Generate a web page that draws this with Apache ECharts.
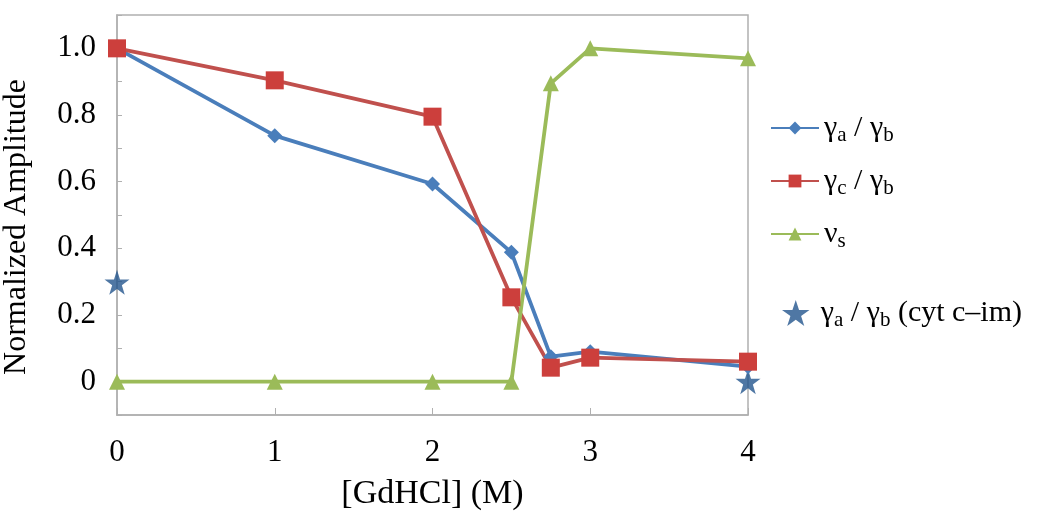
<!DOCTYPE html>
<html>
<head>
<meta charset="utf-8">
<script src="https://cdn.jsdelivr.net/npm/echarts@6/dist/echarts.min.js"></script>
<style>
html, body { margin: 0; padding: 0; background: #fff; }
#myChart { width: 1050px; height: 529px; }
</style>
</head>
<body>
<div id="myChart"></div>
<script>
// GdHCl concentration (M)
var xValues = [0, 1, 2, 2.5, 2.75, 3, 4];
var gammaAB = [1.0, 0.738, 0.593, 0.388, 0.075, 0.09, 0.045];
var gammaCB = [1.0, 0.904, 0.795, 0.253, 0.042, 0.072, 0.06];
var nuS = [0, 0, 0, 0, 0.895, 1.0, 0.97];
var cytX = [0, 4];
var cytY = [0.298, 0.0];

var font = 'Liberation Serif';
var starPath = 'path://M50,0 L61.8,35.4 L99,35.4 L69,57.3 L80.4,92.7 L50,70.8 L19.6,92.7 L31,57.3 L1,35.4 L38.2,35.4 Z';

function pairs(xs, ys) {
    var out = [];
    for (var i = 0; i < xs.length; i++) out.push([xs[i], ys[i]]);
    return out;
}

var legendText = {
    'ab': '{g|γ}{s|a}{g| / γ}{s|b}',
    'cb': '{g|γ}{s|c}{g| / γ}{s|b}',
    'nu': '{g|ν}{s|s}',
    'cyt': '{sp| }{g|γ}{s|a}{g| / γ}{s|b}{g| (cyt c–im)}'
};

var legendRich = {
    sp: { fontSize: 8, width: 6 },
    g: { fontFamily: font, fontSize: 30, color: '#000', lineHeight: 36 },
    s: { fontFamily: font, fontSize: 21, color: '#000', verticalAlign: 'bottom', lineHeight: 26, padding: [11, 0, 0, 0] }
};

var myChart = echarts.init(document.getElementById('myChart'));
var option = {
    animation: false,
    grid: {
        left: 117,
        right: 302,
        top: 15,
        bottom: 114,
        outerBoundsMode: 'none',
        show: true,
        borderColor: '#b0b0b0',
        borderWidth: 1.5
    },
    legend: [
        {
            orient: 'vertical',
            left: 765,
            top: 108,
            itemGap: 20,
            itemWidth: 48,
            itemHeight: 16,
            data: ['ab', 'cb', 'nu'],
            formatter: function (name) { return legendText[name]; },
            textStyle: { fontFamily: font, color: '#000', rich: legendRich }
        },
        {
            orient: 'vertical',
            left: 777,
            top: 293,
            itemWidth: 28,
            itemHeight: 26,
            data: ['cyt'],
            formatter: function (name) { return legendText[name]; },
            textStyle: { fontFamily: font, color: '#000', rich: legendRich }
        }
    ],
    xAxis: {
        type: 'value',
        min: 0,
        max: 4,
        interval: 1,
        name: '[GdHCl] (M)',
        nameLocation: 'middle',
        nameGap: 62,
        nameTextStyle: { fontFamily: font, fontSize: 34, color: '#000' },
        axisLine: { onZero: false, lineStyle: { color: '#b0b0b0', width: 1.5 } },
        axisTick: { inside: true, length: 7, lineStyle: { color: '#b0b0b0' } },
        axisLabel: { fontFamily: font, fontSize: 31, color: '#000', margin: 22 },
        splitLine: { show: false }
    },
    yAxis: {
        type: 'value',
        min: -0.1,
        max: 1.1,
        interval: 0.1,
        name: 'Normalized Amplitude',
        nameLocation: 'middle',
        nameGap: 84,
        nameTextStyle: { fontFamily: font, fontSize: 32, color: '#000', padding: [0, 24, 0, 0] },
        axisLine: { show: true, lineStyle: { color: '#b0b0b0', width: 1.5 } },
        axisTick: { inside: true, length: 5, lineStyle: { color: '#b0b0b0' } },
        axisLabel: {
            fontFamily: font,
            fontSize: 31,
            color: '#000',
            margin: 21,
            formatter: function (v) {
                var k = Math.round(v * 10);
                if (k < 0 || k > 10 || k % 2 !== 0) return '';
                if (k === 0) return '0';
                return (k / 10).toFixed(1);
            }
        },
        splitLine: { show: false }
    },
    series: [
        {
            name: 'ab',
            type: 'line',
            data: pairs(xValues, gammaAB),
            symbol: 'diamond',
            symbolSize: 15,
            lineStyle: { color: '#4a7ebb', width: 3.8 },
            itemStyle: { color: '#4a7ebb' }
        },
        {
            name: 'cb',
            type: 'line',
            data: pairs(xValues, gammaCB),
            symbol: 'rect',
            symbolSize: 18,
            lineStyle: { color: '#c0504d', width: 3.8 },
            itemStyle: { color: '#cc3f3c' }
        },
        {
            name: 'nu',
            type: 'line',
            data: pairs(xValues, nuS),
            symbol: 'triangle',
            symbolSize: 16,
            lineStyle: { color: '#9bbb59', width: 3.8 },
            itemStyle: { color: '#9bbb59' }
        },
        {
            name: 'cyt',
            type: 'scatter',
            data: pairs(cytX, cytY),
            symbol: starPath,
            symbolSize: 25,
            itemStyle: { color: '#23558d' }
        }
    ]
};
myChart.setOption(option);
</script>
</body>
</html>
